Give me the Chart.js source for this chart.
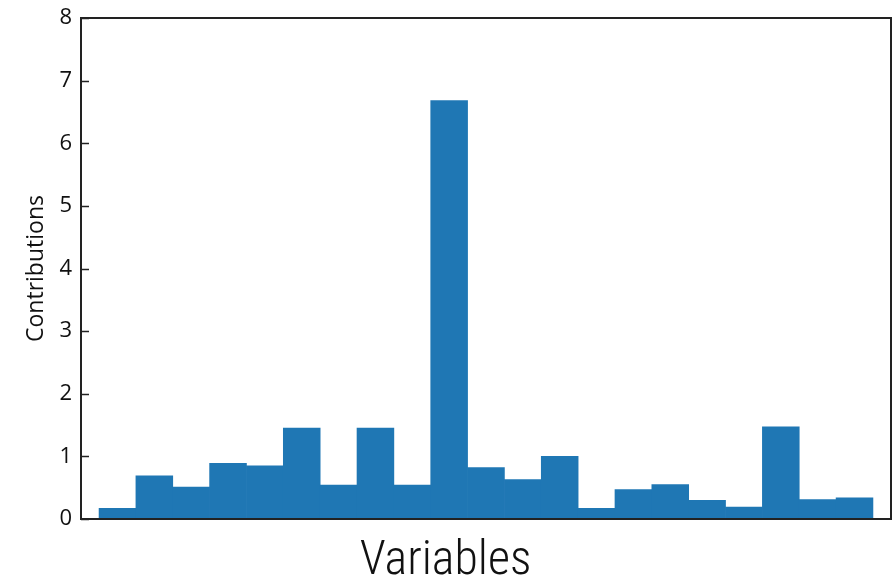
<!DOCTYPE html>
<html>
<head>
<meta charset="utf-8">
<script src="https://cdn.jsdelivr.net/npm/chart.js@4.4.0/dist/chart.umd.min.js"></script>
<style>
  html, body { margin: 0; padding: 0; background: #fff; }
  #wrap { width: 893px; height: 576px; position: relative; }
</style>
</head>
<body>
<div id="wrap"><canvas id="contribChart"></canvas></div>
<script>
// ================= DATA =================
const variables = ["V1", "V2", "V3", "V4", "V5", "V6", "V7", "V8", "V9", "V10", "V11",
  "V12", "V13", "V14", "V15", "V16", "V17", "V18", "V19", "V20", "V21"];
const contributions = [0.17, 0.69, 0.51, 0.89, 0.85, 1.45, 0.54, 1.45, 0.54, 6.68, 0.82,
  0.63, 1.00, 0.17, 0.47, 0.55, 0.30, 0.19, 1.47, 0.31, 0.34];
const yTicks = [0, 1, 2, 3, 4, 5, 6, 7, 8];

const AXIS_COLOR = "#222";
const BAR_COLOR = "#1f77b4";

// bars sit on integer positions, the axis keeps about half a bar free at each end
const points = variables.map((name, i) => ({ x: i, y: contributions[i] }));

// ================= FRAME + INWARD TICKS =================
const framePlugin = {
  id: "frame",
  afterDatasetsDraw(chart) {
    const { ctx, chartArea: a, scales } = chart;
    ctx.save();
    ctx.strokeStyle = AXIS_COLOR;
    ctx.lineWidth = 2;
    ctx.strokeRect(a.left, a.top, a.right - a.left, a.bottom - a.top);
    ctx.lineWidth = 1.5;
    yTicks.forEach(v => {
      const y = Math.round(scales.y.getPixelForValue(v)) + 0.5;
      ctx.beginPath();
      ctx.moveTo(a.left, y);
      ctx.lineTo(a.left + 8, y);
      ctx.stroke();
    });
    ctx.restore();
  }
};

// ================= CHART =================
new Chart(document.getElementById("contribChart"), {
  type: "bar",
  data: {
    datasets: [{
      data: points,
      backgroundColor: BAR_COLOR,
      borderWidth: 0,
      barPercentage: 1,
      categoryPercentage: 1
    }]
  },
  options: {
    responsive: true,
    maintainAspectRatio: false,
    animation: false,
    layout: { padding: { top: 18, right: 2, left: 0, bottom: 0 } },
    plugins: {
      legend: { display: false },
      tooltip: { enabled: false },
      // x label is centred on the whole figure, not on the plot area
      title: {
        display: true,
        position: "bottom",
        text: "Variables",
        color: "#111",
        font: { family: "'Roboto Condensed', 'Liberation Sans Narrow', 'DejaVu Sans Condensed', Roboto", size: 48, weight: 300, lineHeight: 29 / 48 },
        padding: { top: 28, bottom: 0 }
      }
    },
    scales: {
      x: {
        type: "linear",
        min: -0.99,
        max: variables.length - 1 + 0.99,
        offset: false,
        grid: { display: false, drawTicks: false },
        border: { display: false },
        ticks: { display: false },
        afterFit(scale) { scale.height = 0; }
      },
      y: {
        min: 0,
        max: 8,
        afterBuildTicks(scale) { scale.ticks = yTicks.map(v => ({ value: v })); },
        grid: { display: false, drawTicks: false },
        border: { display: false },
        ticks: {
          color: "#111",
          padding: 9,
          font: { family: "'Open Sans'", size: 22, lineHeight: 1 }
        },
        title: {
          display: true,
          text: "Contributions",
          color: "#111",
          font: { family: "'Open Sans'", size: 23 },
          padding: { top: 23, bottom: 0 }
        },
        afterFit(scale) {
          scale.width = 81;
          scale.paddingTop = 0;
          scale.paddingBottom = 0;
        }
      }
    }
  },
  plugins: [framePlugin]
});
</script>
</body>
</html>
